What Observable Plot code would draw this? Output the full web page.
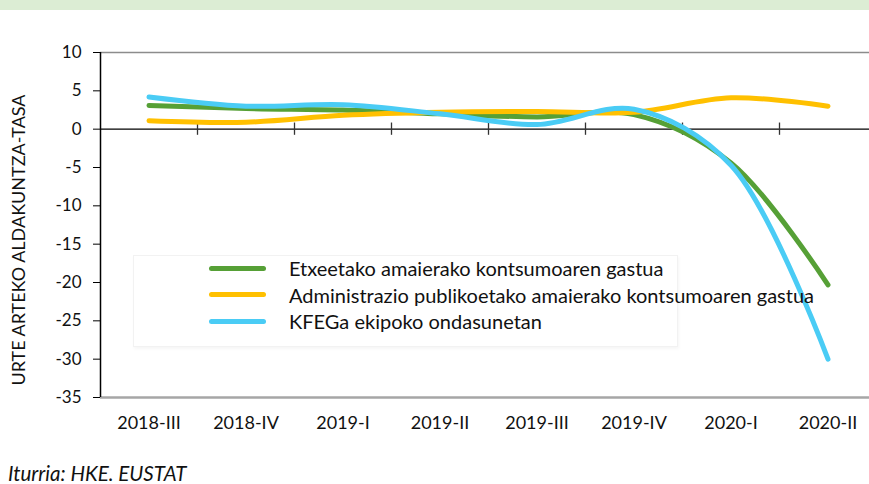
<!DOCTYPE html>
<html>
<head>
<meta charset="utf-8">
<script src="https://cdn.jsdelivr.net/npm/d3@7"></script>
<script src="https://cdn.jsdelivr.net/npm/@observablehq/plot@0.6"></script>
<style>
  body { margin: 0; background: #fff; font-family: Lato, "Open Sans", sans-serif; }
  #wrap { position: relative; width: 869px; height: 484px; overflow: hidden; }
  #band { position: absolute; left: 0; top: 0; width: 869px; height: 10px; background: #dcedd4; }
  #chart { position: absolute; left: 0; top: 0; }
  #ylabel { position: absolute; left: 18px; top: 240px; transform: translate(-50%, -50%) rotate(-90deg); white-space: nowrap; font-size: 18px; color: #111; }
  #legend { position: absolute; left: 133px; top: 255px; width: 543px; height: 90px; border: 1px solid #f2f2f2; box-shadow: 1px 2px 3px rgba(0,0,0,0.04); background: rgba(255,255,255,0.6); }
  .item { position: absolute; left: 75px; height: 26px; display: flex; align-items: center; font-size: 20px; color: #111; white-space: nowrap; }
  .sw { width: 57px; height: 5px; border-radius: 3px; margin-right: 23px; }
  #caption { position: absolute; left: 8px; top: 461px; font-style: italic; font-size: 20.5px; color: #111; }
</style>
</head>
<body>
<div id="wrap">
  <div id="band"></div>
  <div id="chart"></div>
  <div id="ylabel">URTE ARTEKO ALDAKUNTZA-TASA</div>
  <div id="legend"></div>
  <div id="caption">Iturria: HKE. EUSTAT</div>
</div>
<script>
const quarters = ["2018-III","2018-IV","2019-I","2019-II","2019-III","2019-IV","2020-I","2020-II"];
const etxeak = [3.1, 2.7, 2.5, 2.0, 1.6, 1.9, -4.4, -20.3];
const admin  = [1.1, 0.9, 1.8, 2.2, 2.3, 2.2, 4.1, 3.0];
const kfeg   = [4.2, 3.0, 3.2, 2.0, 0.6, 2.6, -4.7, -30.0];
const seriesNames = [
  "Etxeetako amaierako kontsumoaren gastua",
  "Administrazio publikoetako amaierako kontsumoaren gastua",
  "KFEGa ekipoko ondasunetan"
];
const seriesColors = ["#56a036", "#ffc000", "#4accf5"];
const yTicks = [10, 5, 0, -5, -10, -15, -20, -25, -30, -35];

const allSeries = [etxeak, admin, kfeg];
const rows = [];
allSeries.forEach((vals, s) => vals.forEach((v, i) => rows.push({i, v, s: seriesNames[s]})));
const idx = quarters.map((q, i) => i);
const bounds = quarters.slice(0, -1).map((q, i) => i + 0.5);

const chart = Plot.plot({
  width: 869,
  height: 484,
  marginTop: 52,
  marginBottom: 87,
  marginLeft: 100,
  marginRight: 0,
  style: { fontFamily: "Lato, 'Open Sans', sans-serif", fontSize: "17px", color: "#111", background: "transparent" },
  x: { type: "linear", domain: [-0.5, 7.5], range: [100, 876] },
  y: { domain: [-35, 10] },
  color: { domain: seriesNames, range: seriesColors },
  marks: [
    Plot.ruleY([10], { stroke: "#8c8c8c", strokeWidth: 1.5 }),
    Plot.ruleY([-35], { stroke: "#a6a6a6", strokeWidth: 2.5 }),
    Plot.ruleY([0], { stroke: "#000", strokeWidth: 1.3 }),
    Plot.ruleX(bounds, { y1: -0.8, y2: 0.8, stroke: "#333", strokeWidth: 1.3 }),
    Plot.ruleX([-0.5], { y1: -35, y2: 10, stroke: "#000", strokeWidth: 1.5 }),
    Plot.axisY({ ticks: yTicks, tickSize: 7, tickPadding: 12, tickFormat: d => String(d), label: null, fontSize: 17, stroke: "#000" }),
    Plot.axisX({ ticks: idx, tickFormat: i => quarters[i], tickSize: 0, tickPadding: 19, label: null, fontSize: 18 }),
    Plot.line(rows, { x: "i", y: "v", z: "s", stroke: "s", strokeWidth: 5, curve: "catmull-rom", strokeLinecap: "round", strokeLinejoin: "round" })
  ]
});
document.getElementById("chart").appendChild(chart);

const legend = document.getElementById("legend");
seriesNames.forEach((n, k) => {
  const d = document.createElement("div");
  d.className = "item";
  d.style.top = (-1 + k * 26.5) + "px";
  d.innerHTML = `<span class="sw" style="background:${seriesColors[k]}"></span><span>${n}</span>`;
  legend.appendChild(d);
});
</script>
</body>
</html>
